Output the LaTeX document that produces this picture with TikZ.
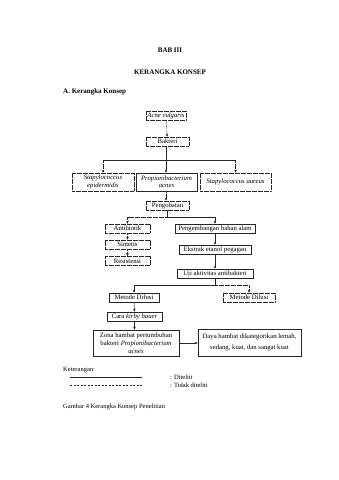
\documentclass[tikz,border=0pt]{standalone}
\usepackage{fontspec}
\setmainfont{Liberation Serif}
\usetikzlibrary{arrows.meta}
\tikzset{
  lw/.style={line width=0.5pt, draw=black!85},
  box/.style={lw, draw, inner sep=0pt, align=center, font=\fontsize{6.7}{7.4}\selectfont, minimum height=9pt},
  dots/.style={dash pattern=on 0.6pt off 0.6pt},
  dbox/.style={box, dots},
  arr/.style={lw, -{Stealth[length=3pt,width=2.6pt]}},
  darr/.style={arr, dots},
  ln/.style={lw},
  dln/.style={lw, dots},
  txt/.style={inner sep=0pt, anchor=west, font=\fontsize{6.5}{7.2}\selectfont},
  head/.style={inner sep=0pt, font=\fontsize{7}{8}\selectfont\bfseries}
}
\begin{document}
\begin{tikzpicture}[x=1pt,y=-1pt]
\useasboundingbox[fill=white] (0,0) rectangle (339,480);

\node[head] (bab) at (170,50) {BAB III};
\node[head] (ker) at (170,72) {KERANGKA KONSEP};
\node[head, anchor=west] (sub) at (63,92) {A. Kerangka Konsep};

\node[dbox, minimum width=40pt] (acne) at (166,115.5) {\textit{Acne vulgaris}};
\node[dbox, minimum width=43pt] (bak) at (167.5,141.5) {Bakteri};
\node[dbox, minimum width=62pt, minimum height=18pt] (se) at (103,182) {\textit{Stapylococcus}\\\textit{epidermidis}};
\node[box, minimum width=61pt, minimum height=18pt] (prop) at (166.5,182) {\textit{Propionibacterium}\\\textit{acnes}};
\node[dbox, minimum width=71pt, minimum height=18pt] (sa) at (235.5,182) {\textit{Stapylococcus aureus}};
\node[dbox, minimum width=43pt] (peng) at (167.5,205.5) {Pengobatan};
\node[dbox, minimum width=45pt] (anti) at (127.5,228.5) {Antibiotik};
\node[dbox, minimum width=45pt] (sint) at (127.5,244.5) {Sintetis};
\node[dbox, minimum width=45pt] (res) at (127.5,261) {Resistensi};
\node[box, minimum width=80pt] (pba) at (215,228.5) {Pengembangan bahan alam};
\node[box, minimum width=72pt] (eks) at (215,249.5) {Ekstrak etanol pegagan};
\node[box, minimum width=76pt] (uji) at (215,273.5) {Uji aktivitas antibakteri};
\node[box, minimum width=50pt] (dif) at (134,297.5) {Metode Difusi};
\node[dbox, minimum width=52pt] (dil) at (249,297.5) {Metode Dilusi};
\node[box, minimum width=55pt] (kb) at (134.5,316.5) {Cara \textit{kirby bauer}};
\node[box, minimum width=86pt, minimum height=26pt, font=\fontsize{6.7}{8}\selectfont] (zona) at (136,343) {Zona hambat pertumbuhan\\bakteri \textit{Propionibacterium}\\\textit{acnes}};
\node[box, minimum width=103pt, minimum height=27pt, font=\fontsize{6.7}{11}\selectfont] (daya) at (249.5,342.5) {Daya hambat dikategorikan lemah,\\sedang, kuat, dan sangat kuat};

% connectors
\coordinate (j1) at (166,160);
\coordinate (j2) at (167.5,217);
\coordinate (j3) at (215,285);
\draw[darr] (acne) -- (bak);
\draw[ln] (bak.south -| j1) -- (j1);
\draw[ln] (j1 -| se) -- (j1 -| sa);
\draw[darr] (j1 -| se) -- (se.north);
\draw[arr] (j1) -- (prop.north -| j1);
\draw[darr] (j1 -| sa) -- (sa.north);
\draw[darr] (prop.south -| j1) -- (peng.north -| j1);
\draw[ln] (peng.south) -- (j2);
\draw[dln] (j2) -- (j2 -| anti);
\draw[darr] (j2 -| anti) -- (anti.north);
\draw[ln] (j2) -- (j2 -| pba);
\draw[arr] (j2 -| pba) -- (pba.north);
\draw[darr] (anti) -- (sint);
\draw[darr] (sint) -- (res);
\draw[arr] (pba) -- (eks);
\draw[arr] (eks) -- (uji);
\draw[ln] (uji.south) -- (j3);
\draw[ln] (j3) -- (j3 -| dif);
\draw[arr] (j3 -| dif) -- (dif.north);
\draw[dln] (j3) -- (j3 -| dil);
\draw[darr] (j3 -| dil) -- (dil.north);
\draw[arr] (dif) -- (kb);
\draw[arr] (kb.south) -- (kb.south |- zona.north);
\draw[arr] (zona.east) -- (zona.east -| daya.west);

% legend
\node[txt] (ket) at (63,370) {Keterangan:};
\coordinate (la) at (70,377.5);
\coordinate (lb) at (142,377.5);
\coordinate (lc) at (70,385);
\coordinate (ld) at (142,385);
\draw[ln] (la) -- (lb);
\draw[lw, dash pattern=on 2pt off 1.5pt] (lc) -- (ld);
\node[txt] (d1) at (170,377.5) {: Diteliti};
\node[txt] (d2) at (170,385) {: Tidak diteliti};
\node[txt] (cap) at (63,407) {Gambar 4 Kerangka Konsep Penelitian};
\end{tikzpicture}
\end{document}
